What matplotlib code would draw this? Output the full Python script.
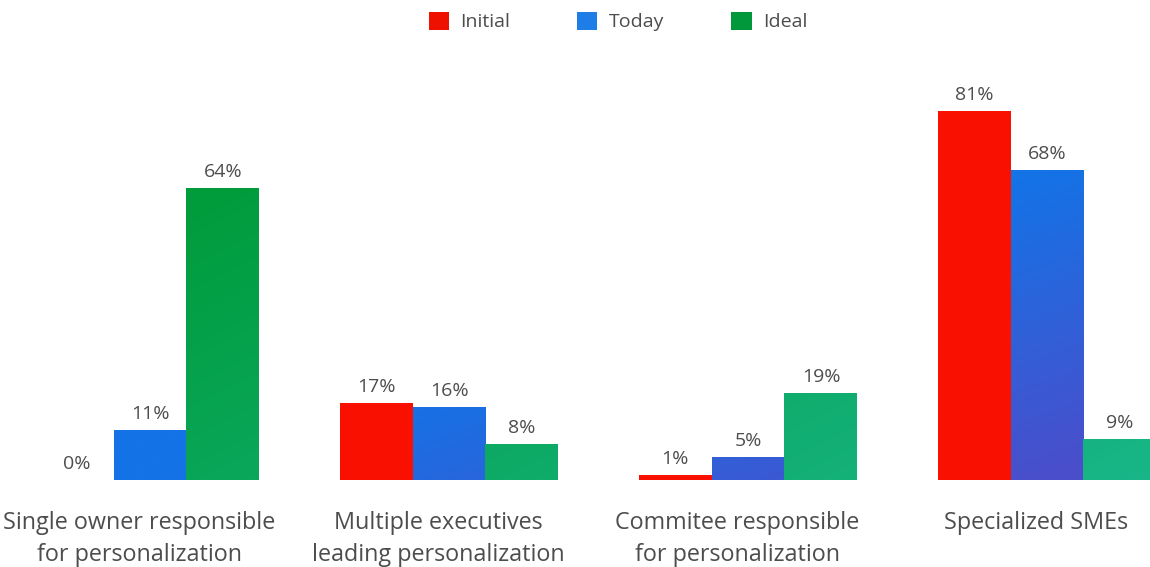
import numpy as np
import matplotlib
matplotlib.use("Agg")
import matplotlib.pyplot as plt
from matplotlib.patches import Patch
from matplotlib.colors import to_rgb

plt.rcParams['font.family'] = ['Open Sans', 'DejaVu Sans']

categories = [
    "Single owner responsible\nfor personalization",
    "Multiple executives\nleading personalization",
    "Commitee responsible\nfor personalization",
    "Specialized SMEs",
]
series = ["Initial", "Today", "Ideal"]
initial = [0, 17, 1, 81]
today = [11, 16, 5, 68]
ideal = [64, 8, 19, 9]

legend_colors = ["#ee1100", "#1e7de6", "#00983a"]
red = "#fa1000"
blue_top, blue_bottom = "#1473e6", "#4b4ecb"
green_top, green_bottom = "#009c3b", "#18b587"
text_color = "#4d4d4d"

W, H = 1150, 567
fig = plt.figure(figsize=(W / 100, H / 100), dpi=100)
ax = fig.add_axes([0, 87 / H, 1, 1 - 87 / H])

x = np.arange(len(categories))
width = 0.244
xlim = (-150 / 299, 1000 / 299)
ylim = (0, 480 / 4.556)


def mix(c0, c1, t):
    a = np.array(to_rgb(c0))
    b = np.array(to_rgb(c1))
    t = np.clip(t, 0, 1)[..., None]
    return a * (1 - t) + b * t


def gradient_bars(xs, vals, c0, c1, tfunc):
    bars = ax.bar(xs, vals, width, color="none", linewidth=0, zorder=2)
    for rect in bars:
        x0, y0 = rect.get_x(), rect.get_y()
        w, h = rect.get_width(), rect.get_height()
        if h <= 0:
            continue
        gx, gy = np.meshgrid(np.linspace(x0, x0 + w, 40),
                             np.linspace(y0 + h, y0, 200))
        img = mix(c0, c1, tfunc(gx, gy))
        im = ax.imshow(img, extent=(x0, x0 + w, y0, y0 + h),
                       aspect="auto", interpolation="bilinear", zorder=2)
        im.set_clip_path(rect)
    return bars


b_init = ax.bar(x - width, initial, width, color=red, linewidth=0, zorder=2)
b_today = gradient_bars(x, today, blue_top, blue_bottom,
                        lambda gx, gy: gx / 3.0 - gy / 68.0)
b_ideal = gradient_bars(x + width, ideal, green_top, green_bottom,
                        lambda gx, gy: 0.2 * gx + 0.351 - 0.00624 * gy)

for bars, vals in ((b_init, initial), (b_today, today), (b_ideal, ideal)):
    for rect, v in zip(bars, vals):
        ax.annotate(f"{v}%", (rect.get_x() + rect.get_width() / 2, v),
                    xytext=(0, 5), textcoords="offset points",
                    ha="center", va="bottom", fontsize=14, color=text_color)

ax.set_xlim(*xlim)
ax.set_ylim(*ylim)
ax.set_xticks(x - 0.035)
ax.set_xticklabels(categories, fontsize=16.8, color=text_color, linespacing=1.45)
ax.tick_params(axis="x", length=0, pad=22)
ax.set_yticks([])
for s in ax.spines.values():
    s.set_visible(False)

handles = [Patch(facecolor=c, edgecolor="none") for c in legend_colors]
fig.legend(handles, series, loc="upper center", bbox_to_anchor=(0.5375, 1.01),
           ncol=3, frameon=False, fontsize=14, handlelength=1.03,
           handleheight=1.03, handletextpad=0.6, columnspacing=3.45,
           labelcolor=text_color)

fig.savefig("out.png", dpi=100)
